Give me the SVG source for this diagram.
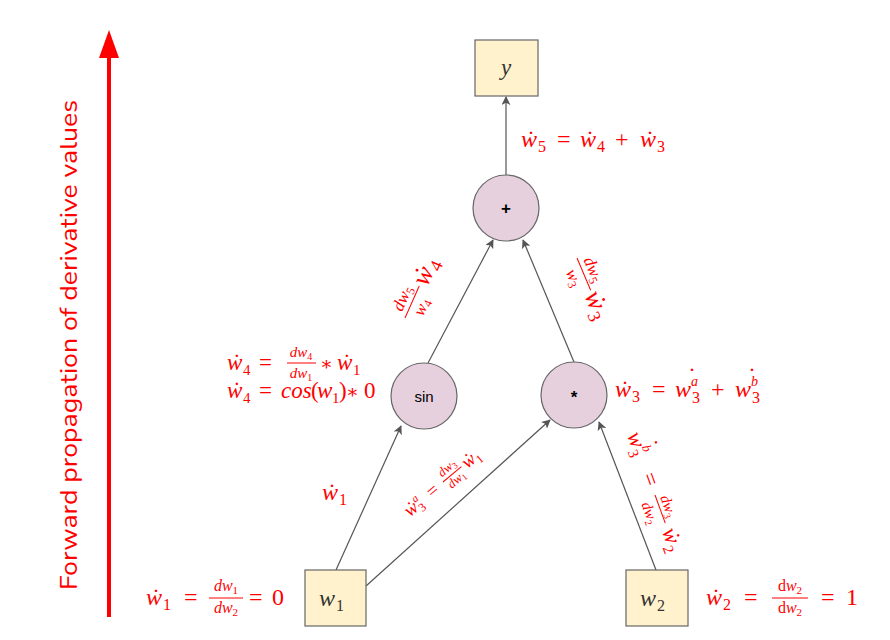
<svg xmlns="http://www.w3.org/2000/svg" width="890" height="640" viewBox="0 0 890 640">
<defs>
<style>
.box{fill:#fff2cc;stroke:#666;stroke-width:1.2}
.cir{fill:#e6d0de;stroke:#666;stroke-width:1.2}
.conn{stroke:#555;stroke-width:1.2;fill:none;marker-end:url(#ah)}
.m{font-family:"Liberation Serif","DejaVu Serif",serif;font-style:italic;fill:#f00}
.r{font-style:normal}
.nt{font-family:"Liberation Serif",serif;font-style:italic;fill:#333}
.ns{font-family:"Liberation Sans",Arial,sans-serif;fill:#000;text-anchor:middle}
.fl{stroke:#f00;stroke-width:1}
.c{text-anchor:middle}
</style>
<marker id="ah" viewBox="0 0 10 10" refX="9" refY="5" markerWidth="9" markerHeight="9" markerUnits="userSpaceOnUse" orient="auto">
<path d="M0,0 L10,5 L0,10 L2.5,5 z" fill="#555"/>
</marker>
</defs>
<rect width="890" height="640" fill="#fff"/>

<g id="axis">
<line x1="109" y1="617" x2="109" y2="55" stroke="#f00" stroke-width="4"/>
<polygon points="109,30 99,58 119,58" fill="#f00"/>
<text transform="translate(77,345) rotate(-90)" text-anchor="middle" font-family="Nunito,'Open Sans',sans-serif" font-size="23" fill="#f00" textLength="490" lengthAdjust="spacingAndGlyphs">Forward propagation of derivative values</text>
</g>

<g id="connectors">
<line class="conn" x1="336" y1="570" x2="401" y2="426"/>
<line class="conn" x1="366" y1="586" x2="550" y2="420"/>
<line class="conn" x1="656" y1="570" x2="599" y2="422"/>
<line class="conn" x1="428" y1="363" x2="493" y2="240"/>
<line class="conn" x1="574" y1="362" x2="523" y2="240"/>
<line class="conn" x1="506" y1="175" x2="506" y2="97"/>
</g>

<g id="node-y"><rect class="box" x="475" y="40" width="63" height="56"/><text class="nt" x="506" y="75" font-size="23" text-anchor="middle">y</text></g>
<g id="node-plus"><circle class="cir" cx="506" cy="208" r="33"/><text class="ns" x="506" y="214" font-size="17" font-weight="bold">+</text></g>
<g id="node-sin"><circle class="cir" cx="424" cy="396" r="33"/><text class="ns" x="424" y="402" font-size="15">sin</text></g>
<g id="node-mul"><circle class="cir" cx="574" cy="395" r="33"/><text class="ns" x="574" y="403" font-size="17" font-weight="bold">*</text></g>
<g id="node-w1"><rect class="box" x="305" y="570" width="61" height="56"/><text class="nt" font-size="24"><tspan x="319" y="606">w</tspan><tspan class="r" x="336" y="611" font-size="16">1</tspan></text></g>
<g id="node-w2"><rect class="box" x="626" y="570" width="62" height="56"/><text class="nt" font-size="24"><tspan x="640" y="606">w</tspan><tspan class="r" x="657" y="611" font-size="16">2</tspan></text></g>

<g id="labels">
<!-- w5 -->
<text class="m" font-size="24"><tspan x="521" y="147">w</tspan><tspan class="r" x="527" y="147">˙</tspan><tspan class="r" x="538" y="152" font-size="16">5</tspan><tspan class="r" x="557" y="147">=</tspan><tspan x="580" y="147">w</tspan><tspan class="r" x="586" y="147">˙</tspan><tspan class="r" x="597" y="152" font-size="16">4</tspan><tspan class="r" x="615" y="147">+</tspan><tspan x="640" y="147">w</tspan><tspan class="r" x="646" y="147">˙</tspan><tspan class="r" x="657" y="152" font-size="16">3</tspan></text>

<!-- w1 edge label -->
<text class="m" font-size="24"><tspan x="322" y="500">w</tspan><tspan class="r" x="328" y="500">˙</tspan><tspan class="r" x="339" y="505" font-size="16">1</tspan></text>

<!-- w4 labels -->
<text class="m" font-size="23"><tspan x="227" y="370">w</tspan><tspan class="r" x="233" y="370">˙</tspan><tspan class="r" x="243" y="375" font-size="15">4</tspan><tspan class="r" x="259" y="370">=</tspan><tspan class="r" x="320" y="370" font-size="19">∗</tspan><tspan x="337" y="370">w</tspan><tspan class="r" x="343" y="370">˙</tspan><tspan class="r" x="353" y="375" font-size="15">1</tspan></text>
<text class="m c" x="301" y="357" font-size="15">dw<tspan class="r" font-size="10" dy="3">4</tspan></text>
<line class="fl" x1="287" y1="363" x2="316" y2="363"/>
<text class="m c" x="301" y="378" font-size="15">dw<tspan class="r" font-size="10" dy="3">1</tspan></text>
<text class="m" font-size="23"><tspan x="227" y="398">w</tspan><tspan class="r" x="233" y="398">˙</tspan><tspan class="r" x="243" y="403" font-size="15">4</tspan><tspan class="r" x="259" y="398">=</tspan><tspan x="281" y="398">cos</tspan><tspan class="r" x="311" y="398">(</tspan><tspan x="317" y="398">w</tspan><tspan class="r" x="332" y="403" font-size="15">1</tspan><tspan class="r" x="339" y="398">)</tspan><tspan class="r" x="346" y="398" font-size="19">∗</tspan><tspan class="r" x="364" y="398">0</tspan></text>

<!-- w3 label -->
<text class="m" font-size="24"><tspan x="615" y="397">w</tspan><tspan class="r" x="621" y="397">˙</tspan><tspan class="r" x="632" y="402" font-size="16">3</tspan><tspan class="r" x="652" y="397">=</tspan><tspan x="675" y="397">w</tspan><tspan x="691" y="386" font-size="14">a</tspan><tspan class="r" x="688" y="384">˙</tspan><tspan class="r" x="692" y="403" font-size="16">3</tspan><tspan class="r" x="711" y="397">+</tspan><tspan x="735" y="397">w</tspan><tspan x="751" y="386" font-size="14">b</tspan><tspan class="r" x="748" y="384">˙</tspan><tspan class="r" x="752" y="403" font-size="16">3</tspan></text>

<!-- w1 bottom -->
<text class="m" font-size="24"><tspan x="146" y="605">w</tspan><tspan class="r" x="152" y="605">˙</tspan><tspan class="r" x="163" y="610" font-size="16">1</tspan><tspan class="r" x="184" y="605">=</tspan><tspan class="r" x="249" y="605">=</tspan><tspan class="r" x="272" y="605">0</tspan></text>
<text class="m c" x="226" y="591" font-size="16">dw<tspan class="r" font-size="11" dy="3">1</tspan></text>
<line class="fl" x1="209" y1="598" x2="243" y2="598"/>
<text class="m c" x="226" y="613" font-size="16">dw<tspan class="r" font-size="11" dy="3">2</tspan></text>

<!-- w2 bottom -->
<text class="m" font-size="24"><tspan x="706" y="605">w</tspan><tspan class="r" x="712" y="605">˙</tspan><tspan class="r" x="723" y="610" font-size="16">2</tspan><tspan class="r" x="744" y="605">=</tspan><tspan class="r" x="821" y="605">=</tspan><tspan class="r" x="846" y="605">1</tspan></text>
<text class="m c" x="790" y="591" font-size="16"><tspan class="r">d</tspan>w<tspan class="r" font-size="11" dy="3">2</tspan></text>
<line class="fl" x1="772" y1="598" x2="808" y2="598"/>
<text class="m c" x="790" y="613" font-size="16"><tspan class="r">d</tspan>w<tspan class="r" font-size="11" dy="3">2</tspan></text>

<!-- rotated: sin -> + -->
<g transform="translate(405,318) rotate(-66)">
<text class="m c" x="17" y="-5" font-size="17">dw<tspan class="r" font-size="12" dy="3">5</tspan></text>
<line class="fl" x1="0" y1="0" x2="35" y2="0" stroke-width="1.3"/>
<text class="m c" x="17" y="16" font-size="17">w<tspan class="r" font-size="12" dy="3">4</tspan></text>
<text class="m" font-size="27"><tspan x="37" y="8">w</tspan><tspan class="r" x="44" y="8">˙</tspan><tspan class="r" x="56" y="13" font-size="18">4</tspan></text>
</g>

<!-- rotated: * -> + -->
<g transform="translate(577,258) rotate(67)">
<text class="m c" x="17" y="-5" font-size="17">dw<tspan class="r" font-size="12" dy="3">5</tspan></text>
<line class="fl" x1="0" y1="0" x2="35" y2="0" stroke-width="1.3"/>
<text class="m c" x="17" y="16" font-size="17">w<tspan class="r" font-size="12" dy="3">3</tspan></text>
<text class="m" font-size="27"><tspan x="37" y="8">w</tspan><tspan class="r" x="44" y="8">˙</tspan><tspan class="r" x="56" y="13" font-size="18">3</tspan></text>
</g>

<!-- rotated: w1 -> * -->
<g transform="translate(443,482) rotate(-40)">
<text class="m" font-size="19"><tspan x="-48" y="6">w</tspan><tspan class="r" x="-43" y="6">˙</tspan><tspan class="r" x="-35" y="10" font-size="12">3</tspan><tspan x="-35" y="-2" font-size="11">a</tspan><tspan class="r" x="-19" y="6">=</tspan><tspan x="27" y="6">w</tspan><tspan class="r" x="32" y="6">˙</tspan><tspan class="r" x="40" y="10" font-size="12">1</tspan></text>
<text class="m c" x="12" y="-4" font-size="13">dw<tspan class="r" font-size="9" dy="2">3</tspan></text>
<line class="fl" x1="0" y1="0" x2="24" y2="0"/>
<text class="m c" x="12" y="11" font-size="13">dw<tspan class="r" font-size="9" dy="2">1</tspan></text>
</g>

<!-- rotated: w2 -> * -->
<g transform="translate(655,495) rotate(70)">
<text class="m" font-size="23"><tspan x="-66" y="6">w</tspan><tspan x="-50" y="-4" font-size="13">b</tspan><tspan class="r" x="-53" y="-5">˙</tspan><tspan class="r" x="-50" y="11" font-size="15">3</tspan><tspan class="r" x="-23" y="6">=</tspan><tspan x="36" y="6">w</tspan><tspan class="r" x="42" y="6">˙</tspan><tspan class="r" x="52" y="11" font-size="15">2</tspan></text>
<text class="m c" x="15" y="-4" font-size="15">dw<tspan class="r" font-size="10" dy="3">3</tspan></text>
<line class="fl" x1="0" y1="0" x2="30" y2="0"/>
<text class="m c" x="15" y="16" font-size="15">dw<tspan class="r" font-size="10" dy="3">2</tspan></text>
</g>
</g>
</svg>
